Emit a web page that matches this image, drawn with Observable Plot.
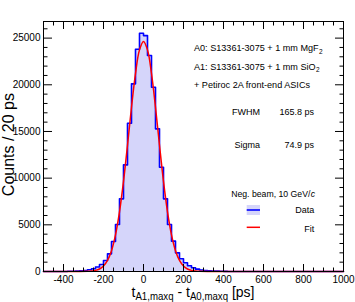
<!DOCTYPE html>
<html><head><meta charset="utf-8">
<script src="https://cdn.jsdelivr.net/npm/d3@7"></script>
<script src="https://cdn.jsdelivr.net/npm/@observablehq/plot@0.6"></script>
<style>body{margin:0;background:#fff;} svg{display:block}</style>
</head><body><div id="chart"></div>
<script>
// Histogram: lower bin edges (20 ps bins) and counts
const binLowEdges = [-380,-360,-340,-320,-300,-280,-260,-240,-220,-200,-180,-160,-140,-120,-100,-80,-60,-40,-20,0,20,40,60,80,100,120,140,160,180,200,220,240,260,280,300,320,340,360,380,400];
const binCounts   = [20,30,45,70,110,180,300,480,750,1180,1890,3210,5030,7780,11420,15880,20100,23800,25520,25270,23130,19730,15280,11170,7780,5030,3250,2000,1360,930,620,400,250,160,100,70,50,35,25,15];
const binWidth = 20;
// Fit curve points
const fitX = [-500,-360,-320,-280,-260,-240,-220,-200,-180,-160,-140,-120,-100,-80,-60,-40,-20,0,20,40,60,80,100,120,140,160,180,200,220,240,260,280,320,360,1000];
const fitY = [0,2,8,30,60,120,270,580,1180,2230,3920,6380,9650,13520,17590,21210,23740,24650,23740,21210,17590,13520,9650,6380,3920,2230,1180,580,270,120,60,30,8,2,0];
// Axes
const xDomain = [-500, 1000];
const yDomain = [0, 26780];
const xMajorTicks = [-400,-200,0,200,400,600,800,1000];
const xMinorTicks = [-450,-350,-300,-250,-150,-100,-50,50,100,150,250,300,350,450,500,550,650,700,750,850,900,950];
const yMajorTicks = [0,5000,10000,15000,20000,25000];
const yMinorTicks = [1000,2000,3000,4000,6000,7000,8000,9000,11000,12000,13000,14000,16000,17000,18000,19000,21000,22000,23000,24000,26000];

const histPts = [{x: xDomain[0], y: 0}];
binLowEdges.forEach((e, i) => histPts.push({x: e, y: binCounts[i]}));
histPts.push({x: binLowEdges[binLowEdges.length - 1] + binWidth, y: 0});
histPts.push({x: xDomain[1], y: 0});
const fitPts = fitX.map((x, i) => ({x, y: fitY[i]}));

const FONT = "'Liberation Sans', Arial, Helvetica, sans-serif";
const tickOnly = (axis, opts) => axis({...opts, fill: "none", label: null});

const chart = Plot.plot({
  width: 355, height: 302,
  marginLeft: 43, marginRight: 12, marginTop: 21, marginBottom: 31,
  style: {fontFamily: FONT, fontSize: "10px", background: "#fff", color: "#000"},
  x: {domain: xDomain, axis: null},
  y: {domain: yDomain, axis: null},
  marks: [
    Plot.areaY(histPts, {x: "x", y: "y", curve: "step-after", fill: "#d5d5fa"}),
    Plot.lineY(histPts, {x: "x", y: "y", curve: "step-after", stroke: "#0000ff", strokeWidth: 1.6}),
    Plot.lineY(fitPts, {x: "x", y: "y", curve: "catmull-rom", stroke: "#ff0000", strokeWidth: 1.5}),
    Plot.frame({stroke: "#000", strokeWidth: 1}),
    // labels
    Plot.axisX({anchor: "bottom", ticks: xMajorTicks, tickSize: 0, tickPadding: 4, tickFormat: d => String(d), label: null, fontSize: 10}),
    Plot.axisY({anchor: "left", ticks: yMajorTicks, tickSize: 0, tickPadding: 3, tickFormat: d => String(d), label: null, fontSize: 10}),
    // inward ticks
    tickOnly(Plot.axisX, {anchor: "bottom", ticks: xMajorTicks, tickSize: -7}),
    tickOnly(Plot.axisX, {anchor: "bottom", ticks: xMinorTicks, tickSize: -3.5}),
    tickOnly(Plot.axisX, {anchor: "top", ticks: xMajorTicks, tickSize: -7}),
    tickOnly(Plot.axisX, {anchor: "top", ticks: xMinorTicks, tickSize: -3.5}),
    tickOnly(Plot.axisY, {anchor: "left", ticks: yMajorTicks, tickSize: -9}),
    tickOnly(Plot.axisY, {anchor: "left", ticks: yMinorTicks, tickSize: -4.5}),
    tickOnly(Plot.axisY, {anchor: "right", ticks: yMajorTicks, tickSize: -9}),
    tickOnly(Plot.axisY, {anchor: "right", ticks: yMinorTicks, tickSize: -4.5})
  ]
});
document.getElementById("chart").appendChild(chart);

const svg = d3.select(chart);
const xs = chart.scale("x");
const xCenter = (xs.apply(xDomain[0]) + xs.apply(xDomain[1])) / 2;

// Axis titles
const xt = svg.append("text").attr("x", xCenter).attr("y", 297).attr("text-anchor", "middle")
  .attr("font-family", FONT).attr("font-size", 14.5).attr("fill", "#000")
  .attr("textLength", 123).attr("lengthAdjust", "spacingAndGlyphs");
xt.append("tspan").text("t");
xt.append("tspan").attr("font-size", 10).attr("dy", 2.5).text("A1,maxq");
xt.append("tspan").attr("dy", -2.5).text(" - t");
xt.append("tspan").attr("font-size", 10).attr("dy", 2.5).text("A0,maxq");
xt.append("tspan").attr("dy", -2.5).text(" [ps]");

svg.append("text").attr("transform", "translate(13.5,93) rotate(-90)").attr("text-anchor", "end")
  .attr("font-family", FONT).attr("font-size", 16).attr("fill", "#000").text("Counts / 20 ps");

// Annotations
function label(x, y, anchor, size, parts) {
  const t = svg.append("text").attr("x", x).attr("y", y).attr("text-anchor", anchor)
    .attr("font-family", FONT).attr("font-size", size).attr("fill", "#000");
  parts.forEach(p => {
    const s = t.append("tspan").text(p.t);
    if (p.sub) s.attr("font-size", 6.5).attr("dy", 2.5).attr("dx", 0.5);
    if (p.it) s.attr("font-style", "italic").attr("dx", 0.3);
  });
  return t;
}
label(194, 51, "start", 9.1, [{t: "A0: S13361-3075 + 1 mm MgF"}, {t: "2", sub: true}]);
label(194, 69.7, "start", 9.1, [{t: "A1: S13361-3075 + 1 mm SiO"}, {t: "2", sub: true}]);
label(194, 87.5, "start", 9.1, [{t: "+ Petiroc 2A front-end ASICs"}]);
label(260, 115, "end", 9, [{t: "FWHM"}]);
label(314, 115, "end", 9, [{t: "165.8 ps"}]);
label(260, 148.3, "end", 9, [{t: "Sigma"}]);
label(314, 148.3, "end", 9, [{t: "74.9 ps"}]);
label(315, 196.7, "end", 8.7, [{t: "Neg. beam, 10 GeV/"}, {t: "c", it: true}]);
label(314.3, 213.3, "end", 9, [{t: "Data"}]);
label(314.3, 231.7, "end", 9, [{t: "Fit"}]);

// Legend swatches
svg.append("rect").attr("x", 246.7).attr("y", 205).attr("width", 13.3).attr("height", 10).attr("fill", "#d5d5fa");
svg.append("line").attr("x1", 246.7).attr("x2", 260).attr("y1", 210).attr("y2", 210).attr("stroke", "#0000ff").attr("stroke-width", 1.6);
svg.append("line").attr("x1", 246.7).attr("x2", 260).attr("y1", 227.3).attr("y2", 227.3).attr("stroke", "#ff0000").attr("stroke-width", 1.5);
</script></body></html>
